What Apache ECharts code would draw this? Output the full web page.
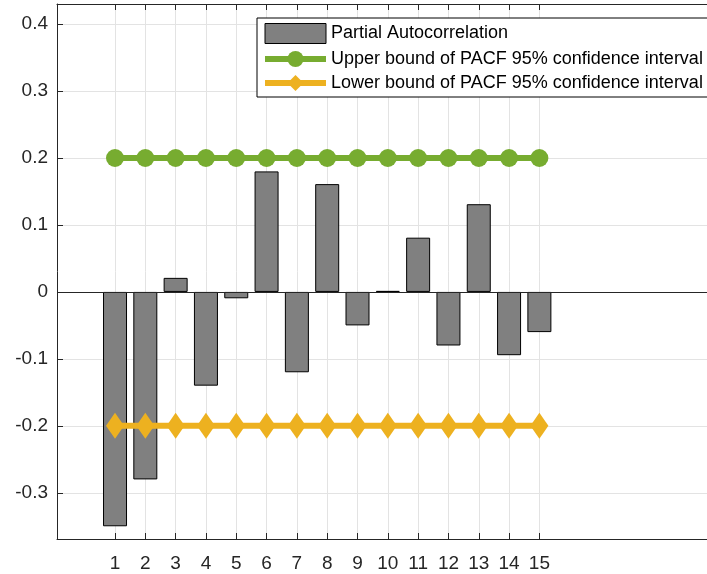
<!DOCTYPE html>
<html>
<head>
<meta charset="utf-8">
<script src="https://cdn.jsdelivr.net/npm/echarts@6/dist/echarts.min.js"></script>
<style>
  html, body { margin: 0; padding: 0; background: #fff; }
  #chart { width: 707px; height: 574px; }
</style>
</head>
<body>
<div id="chart"></div>
<script>
// lags 1..15 and the PACF values
const lags = [1, 2, 3, 4, 5, 6, 7, 8, 9, 10, 11, 12, 13, 14, 15];
const pacf = [-0.35, -0.28, 0.021, -0.14, -0.0095, 0.18, -0.12, 0.161, -0.05, 0.0015, 0.081, -0.08, 0.131, -0.0945, -0.06];
const upperBound = [0.2, 0.2, 0.2, 0.2, 0.2, 0.2, 0.2, 0.2, 0.2, 0.2, 0.2, 0.2, 0.2, 0.2, 0.2];
const lowerBound = [-0.2, -0.2, -0.2, -0.2, -0.2, -0.2, -0.2, -0.2, -0.2, -0.2, -0.2, -0.2, -0.2, -0.2, -0.2];
const yTicks = [-0.3, -0.2, -0.1, 0, 0.1, 0.2, 0.3, 0.4];

const names = [
  "Partial Autocorrelation",
  "Upper bound of PACF 95% confidence interval",
  "Lower bound of PACF 95% confidence interval",
];

const font = "'Liberation Sans', Arial, Helvetica, sans-serif";
const axisColor = "#262626";
const gridColor = "#e3e3e3";
const green = "#77AC30";
const yellow = "#EDB120";

const pairs = (ys) => lags.map((x, i) => [x, ys[i]]);

const chart = echarts.init(document.getElementById("chart"));

chart.setOption({
  animation: false,
  textStyle: { fontFamily: font },
  grid: { left: 57, top: 4, bottom: 35, right: 0, containLabel: false },
  legend: {
    orient: "vertical",
    left: 257,
    top: 18,
    padding: [5, 5, 5, 5],
    itemGap: 6,
    itemWidth: 61,
    itemHeight: 20,
    backgroundColor: "#fff",
    borderColor: "#000",
    borderWidth: 1,
    borderRadius: 0,
    textStyle: { fontSize: 18, color: "#000", fontFamily: font },
    data: [
      { name: names[0], icon: "rect", itemStyle: { color: "#808080", borderColor: "#000", borderWidth: 1 } },
      { name: names[1], lineStyle: { color: green, width: 6 } },
      { name: names[2], lineStyle: { color: yellow, width: 6 } },
    ],
  },
  xAxis: [
    {
      type: "value",
      position: "bottom",
      min: -0.914,
      max: 20.53,
      axisLine: { onZero: false, lineStyle: { color: axisColor, width: 1 } },
      axisTick: { inside: true, length: 6, customValues: lags, lineStyle: { color: axisColor } },
      axisLabel: { customValues: lags, fontSize: 19, color: axisColor, margin: 15 },
      splitLine: { show: true, lineStyle: { color: gridColor } },
    },
    {
      type: "value",
      position: "top",
      min: -0.914,
      max: 20.53,
      axisLine: { onZero: false, lineStyle: { color: axisColor, width: 1 } },
      axisTick: { inside: true, length: 6, customValues: lags, lineStyle: { color: axisColor } },
      axisLabel: { show: false },
      splitLine: { show: false },
    },
  ],
  yAxis: {
    type: "value",
    min: -0.369,
    max: 0.43,
    axisLine: { show: true, onZero: false, lineStyle: { color: axisColor, width: 1 } },
    axisTick: { show: true, inside: true, length: 6, customValues: yTicks, lineStyle: { color: axisColor } },
    axisLabel: { customValues: yTicks, fontSize: 19, color: axisColor, margin: 9 },
    splitLine: { show: true, lineStyle: { color: gridColor } },
  },
  series: [
    {
      name: names[0],
      type: "bar",
      barWidth: 24,
      data: pairs(pacf),
      itemStyle: { color: "#808080", borderColor: "#000", borderWidth: 1 },
      markLine: {
        silent: true,
        symbol: "none",
        label: { show: false },
        lineStyle: { color: axisColor, width: 1, type: "solid" },
        data: [{ yAxis: 0 }],
      },
    },
    {
      name: names[1],
      type: "line",
      data: pairs(upperBound),
      symbol: "circle",
      symbolSize: 18,
      lineStyle: { color: green, width: 6 },
      itemStyle: { color: green },
      z: 3,
    },
    {
      name: names[2],
      type: "line",
      data: pairs(lowerBound),
      symbol: "diamond",
      symbolSize: [18, 26],
      lineStyle: { color: yellow, width: 6 },
      itemStyle: { color: yellow },
      z: 3,
    },
  ],
});
</script>
</body>
</html>
